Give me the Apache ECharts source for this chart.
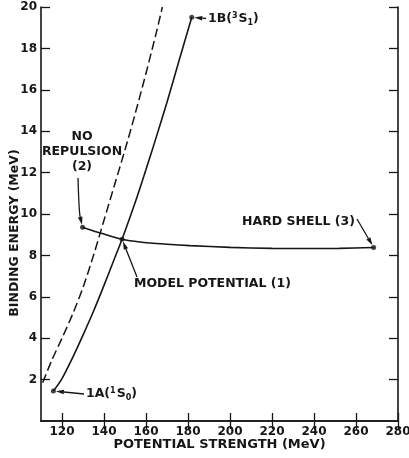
<!DOCTYPE html>
<html>
<head>
<meta charset="utf-8">
<script src="https://cdn.jsdelivr.net/npm/echarts@6/dist/echarts.min.js"></script>
<style>
  html, body { margin: 0; padding: 0; background: #fff; }
  #chart { width: 409px; height: 458px; }
</style>
</head>
<body>
<div id="chart"></div>
<script>
// model potential (1), solid curve, MeV
const modelX = [115.9, 120, 125, 130, 135, 140, 145, 148.6, 155, 160, 165, 170, 176, 181.8];
const modelY = [1.45, 2.05, 3.05, 4.15, 5.3, 6.55, 7.85, 8.78, 10.6, 12.15, 13.75, 15.4, 17.5, 19.5];
// no repulsion (2), dashed curve
const noRepX = [110.8, 115, 120, 125, 130, 135, 140, 145, 150, 155, 160, 165, 167.8];
const noRepY = [1.85, 2.9, 4.0, 5.15, 6.45, 8.0, 9.7, 11.4, 13.1, 14.9, 16.8, 18.8, 20];
// hard shell (3) curve from no-repulsion point to hard-shell point
const shellX = [129.8, 135, 140, 148.6, 157, 170, 181, 200, 220, 240, 252, 268.4];
const shellY = [9.36, 9.18, 9.03, 8.78, 8.65, 8.54, 8.47, 8.39, 8.34, 8.33, 8.34, 8.38];
// marked points: 1A, 1B, no repulsion, model potential, hard shell
const pointX = [115.9, 181.8, 129.8, 148.6, 268.4];
const pointY = [1.45, 19.5, 9.36, 8.78, 8.38];
// tick labels
const xTicks = [120, 140, 160, 180, 200, 220, 240, 260, 280];
const yTicks = [2, 4, 6, 8, 10, 12, 14, 16, 18, 20];

const ink = '#161616';
const font = '"DejaVu Sans", sans-serif';
const pairs = (xs, ys) => xs.map((x, i) => [x, ys[i]]);

const chart = echarts.init(document.getElementById('chart'));

const axisCommon = {
  type: 'value',
  axisLine: { show: true, lineStyle: { color: ink, width: 1.6 } },
  splitLine: { show: false },
};

chart.setOption({
  animation: false,
  backgroundColor: '#fff',
  grid: { left: 41, right: 11, top: 7, bottom: 37, outerBoundsMode: 'none', containLabel: false },
  xAxis: [
    {
      ...axisCommon,
      min: 110, max: 280,
      name: 'POTENTIAL STRENGTH (MeV)',
      nameLocation: 'middle',
      nameGap: 17,
      nameMoveOverlap: false,
      nameTextStyle: { color: ink, fontFamily: font, fontWeight: 'bold', fontSize: 13 },
      axisTick: { inside: true, length: 8, customValues: xTicks, lineStyle: { color: ink, width: 1.3 } },
      axisLabel: { customValues: xTicks, color: ink, fontFamily: font, fontWeight: 'bold', fontSize: 12, margin: 5 },
    },
    {
      ...axisCommon,
      position: 'top',
      min: 110, max: 280,
      axisTick: { inside: true, length: 8, customValues: xTicks, lineStyle: { color: ink, width: 1.3 } },
      axisLabel: { show: false },
    },
  ],
  yAxis: [
    {
      ...axisCommon,
      min: 0, max: 20, interval: 2,
      name: 'BINDING ENERGY (MeV)',
      nameLocation: 'middle',
      nameGap: 20,
      nameMoveOverlap: false,
      nameTextStyle: { color: ink, fontFamily: font, fontWeight: 'bold', fontSize: 12.5, padding: [0, 38, 0, 0] },
      axisTick: { inside: true, length: 9, customValues: yTicks, lineStyle: { color: ink, width: 1.3 } },
      axisLabel: { customValues: yTicks, color: ink, fontFamily: font, fontWeight: 'bold', fontSize: 12, margin: 4 },
    },
    {
      ...axisCommon,
      position: 'right',
      min: 0, max: 20, interval: 2,
      axisTick: { inside: true, length: 9, customValues: yTicks, lineStyle: { color: ink, width: 1.3 } },
      axisLabel: { show: false },
    },
  ],
  series: [
    {
      name: 'Model potential (1)',
      type: 'line',
      data: pairs(modelX, modelY),
      smooth: 0.3,
      showSymbol: false,
      lineStyle: { color: ink, width: 1.6 },
    },
    {
      name: 'No repulsion (2)',
      type: 'line',
      data: pairs(noRepX, noRepY),
      smooth: 0.3,
      showSymbol: false,
      lineStyle: { color: ink, width: 1.5, type: [9, 4] },
    },
    {
      name: 'Hard shell (3)',
      type: 'line',
      data: pairs(shellX, shellY),
      smooth: 0.3,
      showSymbol: false,
      lineStyle: { color: ink, width: 1.6 },
    },
    {
      name: 'States',
      type: 'scatter',
      data: pairs(pointX, pointY),
      symbolSize: 5,
      itemStyle: { color: ink },
      z: 5,
    },
  ],
});

// annotations: arrows from label to marked point
const pt = i => chart.convertToPixel({ gridIndex: 0 }, [pointX[i], pointY[i]]);

function arrowHead(from, target) {
  const dx = target[0] - from[0], dy = target[1] - from[1];
  const len = Math.hypot(dx, dy);
  const ux = dx / len, uy = dy / len;
  const tip = [target[0] - ux * 2.5, target[1] - uy * 2.5];
  const base = [tip[0] - ux * 8, tip[1] - uy * 8];
  const nx = -uy * 2.3, ny = ux * 2.3;
  return {
    base: base,
    el: {
      type: 'polygon',
      shape: { points: [tip, [base[0] + nx, base[1] + ny], [base[0] - nx, base[1] - ny]] },
      style: { fill: ink },
      z: 10,
    },
  };
}

function straightArrow(tail, target) {
  const h = arrowHead(tail, target);
  return [
    { type: 'line', shape: { x1: tail[0], y1: tail[1], x2: h.base[0], y2: h.base[1] },
      style: { stroke: ink, lineWidth: 1.3 }, z: 10 },
    h.el,
  ];
}

function curvedArrow(tail, ctrl, target) {
  const h = arrowHead(ctrl, target);
  return [
    { type: 'bezierCurve', shape: { x1: tail[0], y1: tail[1], cpx1: ctrl[0], cpy1: ctrl[1], x2: h.base[0], y2: h.base[1] },
      style: { stroke: ink, lineWidth: 1.3, fill: null }, z: 10 },
    h.el,
  ];
}

function label(text, x, y, align, rich) {
  return {
    type: 'text', x: x, y: y, z: 10,
    style: {
      text: text, fill: ink, align: align || 'left', verticalAlign: 'middle',
      font: 'bold 12.5px ' + font, rich: rich,
    },
  };
}

const stateRich = {
  sup: { fontSize: 8, fontWeight: 'bold', fontFamily: font, fill: ink, padding: [0, 1, 7, 0] },
  sub: { fontSize: 8, fontWeight: 'bold', fontFamily: font, fill: ink, padding: [7, 0, 0, 0] },
};

const pA = pt(0), pB = pt(1), pNo = pt(2), pModel = pt(3), pHard = pt(4);

chart.setOption({
  graphic: [
    ...straightArrow([84, 394], pA),
    label('1A({sup|1}S{sub|0})', 86, 394, 'left', stateRich),
    ...straightArrow([206, 18.5], pB),
    label('1B({sup|3}S{sub|1})', 208, 19, 'left', stateRich),
    label('NO', 82, 137, 'center'),
    label('REPULSION', 82, 152, 'center'),
    label('(2)', 82, 167, 'center'),
    ...curvedArrow([78, 178], [79, 212], pNo),
    label('MODEL POTENTIAL (1)', 134, 284),
    ...straightArrow([137, 277], pModel),
    label('HARD SHELL (3)', 242, 222),
    ...straightArrow([357, 219], pHard),
  ],
});
</script>
</body>
</html>
